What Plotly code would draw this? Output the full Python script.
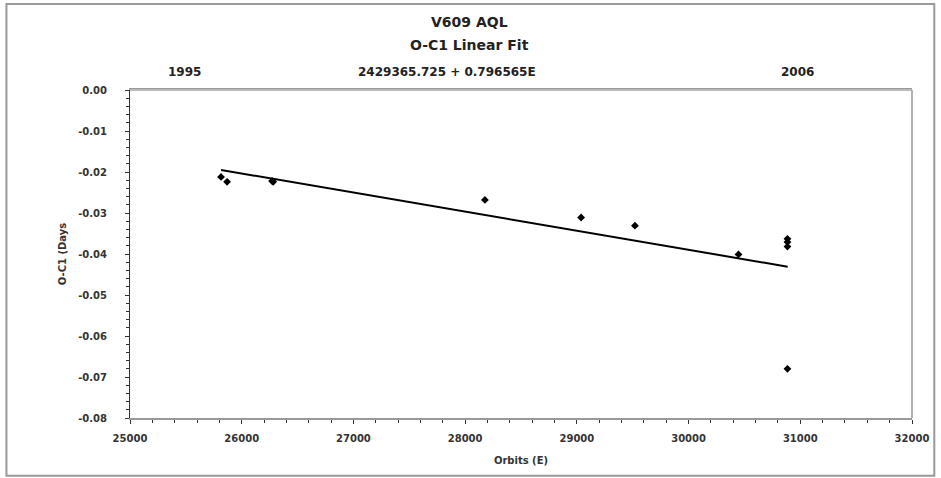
import plotly.graph_objects as go

# Observed O-C1 values
orbits = [25815, 25869, 26272, 26282, 28177, 29038, 29520, 30447, 30885, 30885, 30885, 30885]
oc1 = [-0.0212, -0.0224, -0.0222, -0.0224, -0.0268, -0.0311, -0.0331, -0.0401, -0.0363, -0.0371, -0.0382, -0.0680]

# Linear fit endpoints
fit_x = [25815, 30887]
fit_y = [-0.0195, -0.0431]

# Axis ticks
x_ticks = [25000, 26000, 27000, 28000, 29000, 30000, 31000, 32000]
y_ticks = [0.0, -0.01, -0.02, -0.03, -0.04, -0.05, -0.06, -0.07, -0.08]
y_tick_labels = ["0.00", "-0.01", "-0.02", "-0.03", "-0.04", "-0.05", "-0.06", "-0.07", "-0.08"]

title_lines = ["V609 AQL", "O-C1 Linear Fit"]
top_labels = ["1995", "2429365.725 + 0.796565E", "2006"]
top_label_pos = [0.07, 0.405, 0.854]

FONT = "DejaVu Sans"
fig = go.Figure()
fig.add_trace(go.Scatter(x=fit_x, y=fit_y, mode="lines",
                         line=dict(color="black", width=2), showlegend=False))
fig.add_trace(go.Scatter(x=orbits, y=oc1, mode="markers",
                         marker=dict(symbol="diamond", size=6, color="black"),
                         showlegend=False))

annotations = []
annotations.append(dict(text="<b>" + title_lines[0] + "</b>", xref="paper", yref="paper",
                        x=0.434, y=1, xanchor="center",
                        yshift=68, showarrow=False, yanchor="middle",
                        font=dict(family=FONT, size=14, color="#222")))
annotations.append(dict(text="<b>" + title_lines[1] + "</b>", xref="paper", yref="paper",
                        x=0.434, y=1, xanchor="center",
                        yshift=45, showarrow=False, yanchor="middle",
                        font=dict(family=FONT, size=14, color="#222")))
for t, p in zip(top_labels, top_label_pos):
    annotations.append(dict(text="<b>" + t + "</b>", xref="paper", yref="paper", x=p, y=1,
                            xanchor="center", yshift=18, showarrow=False, yanchor="middle",
                            font=dict(family=FONT, size=12, color="#222")))

tick_font = dict(family=FONT, size=10, color="#333", weight="bold")
title_font = dict(family=FONT, size=10, color="#333", weight="bold")

fig.update_layout(
    width=941, height=478,
    margin=dict(l=130, r=27, t=90, b=60),
    paper_bgcolor="white", plot_bgcolor="white",
    annotations=annotations,
    shapes=[dict(type="rect", xref="paper", yref="paper",
                 x0=-0.158, x1=1.0285, y0=-0.176, y1=1.262,
                 line=dict(color="#999", width=2))],
    xaxis=dict(range=[25000, 32000], tickvals=x_ticks,
               ticktext=[str(v) for v in x_ticks],
               showgrid=False, zeroline=False,
               showline=True, linecolor="#999", linewidth=1.5, mirror=True,
               ticks="outside", ticklen=4, tickcolor="#333",
               ticklabelstandoff=6,
               minor=dict(dtick=200, ticks="outside", ticklen=3, tickcolor="#333"),
               tickfont=tick_font,
               title=dict(text="Orbits (E)", standoff=14, font=title_font)),
    yaxis=dict(range=[-0.08, 0.0], tickvals=y_ticks, ticktext=y_tick_labels,
               showgrid=False, zeroline=False,
               showline=True, linecolor="#333", linewidth=1, mirror=False,
               ticks="outside", ticklen=4, tickcolor="#333",
               ticklabelstandoff=16,
               minor=dict(dtick=0.002, ticks="outside", ticklen=3, tickcolor="#333"),
               tickfont=tick_font,
               title=dict(text="O-C1 (Days", standoff=9, font=title_font)),
)
# light gray top and right frame of plot area
fig.add_shape(type="line", xref="paper", yref="paper", x0=0, x1=1, y0=1, y1=1,
              line=dict(color="#bbb", width=2))
fig.add_shape(type="line", xref="paper", yref="paper", x0=1, x1=1, y0=0, y1=1,
              line=dict(color="#999", width=1.5))

fig.write_html("out.html")
